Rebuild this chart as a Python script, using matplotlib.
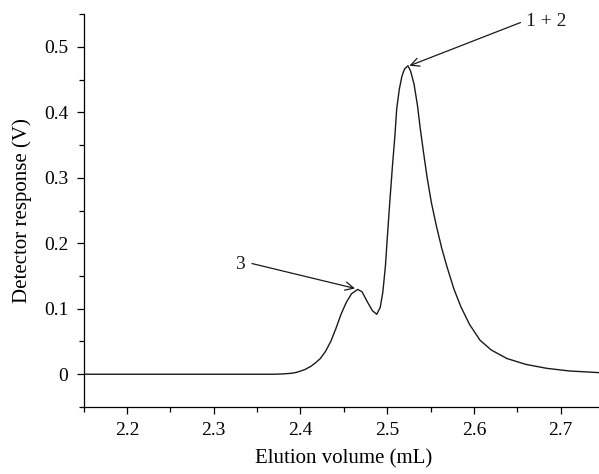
import matplotlib.pyplot as plt
from matplotlib.ticker import MultipleLocator, FuncFormatter

# chromatogram
volume = [2.15, 2.30, 2.37, 2.38, 2.39, 2.396, 2.405, 2.412, 2.418, 2.423, 2.429, 2.435,
          2.441, 2.447, 2.453, 2.459, 2.466, 2.471, 2.477, 2.483, 2.488, 2.492,
          2.495, 2.498, 2.500, 2.503, 2.506, 2.509, 2.511, 2.514, 2.517, 2.520,
          2.524, 2.527, 2.531, 2.535, 2.538, 2.542, 2.546, 2.551, 2.557, 2.563,
          2.569, 2.577, 2.585, 2.595, 2.607, 2.620, 2.638, 2.660, 2.684, 2.710,
          2.750]
response = [0.0, 0.0, 0.0, 0.0005, 0.0015, 0.003, 0.007, 0.012, 0.018, 0.024, 0.035, 0.050,
            0.070, 0.092, 0.110, 0.123, 0.1295, 0.126, 0.111, 0.097, 0.0915, 0.102,
            0.125, 0.165, 0.205, 0.262, 0.316, 0.365, 0.405, 0.435, 0.455, 0.466,
            0.471, 0.463, 0.443, 0.410, 0.377, 0.338, 0.301, 0.262, 0.225, 0.192,
            0.164, 0.130, 0.103, 0.076, 0.052, 0.037, 0.024, 0.015, 0.009, 0.005,
            0.002]

peak_labels = ['3', '1 + 2']
peak_tips = [(2.463, 0.131), (2.5257, 0.471)]
label_tails = [(2.3442, 0.169), (2.6537, 0.537)]
label_pos = [(2.3365, 0.1675), (2.6595, 0.539)]

plt.rcParams['font.family'] = ['Liberation Serif', 'DejaVu Serif']
plt.rcParams['font.size'] = 14

fig = plt.figure(figsize=(5.99, 4.74), dpi=100)
ax = fig.add_axes([0.1394, 0.1414, 0.869, 0.829])

ax.plot(volume, response, color='#1a1a1a', lw=1.0, solid_joinstyle='round')

for txt, tip, tail, pos in zip(peak_labels, peak_tips, label_tails, label_pos):
    ax.annotate('', xy=tip, xytext=tail,
                arrowprops=dict(arrowstyle='->', lw=0.9, color='#1a1a1a',
                                shrinkA=0, shrinkB=0, mutation_scale=15))
    ha = 'right' if pos[0] < tail[0] else 'left'
    ax.text(pos[0], pos[1], txt, ha=ha, va='center', color='#1a1a1a', fontsize=14)

ax.set_xlim(2.15, 2.75)
ax.set_ylim(-0.05, 0.55)
ax.xaxis.set_minor_locator(MultipleLocator(0.05))
ax.yaxis.set_minor_locator(MultipleLocator(0.05))
ax.set_yticks([0, 0.1, 0.2, 0.3, 0.4, 0.5])
ax.set_xticks([2.2, 2.3, 2.4, 2.5, 2.6, 2.7])
ax.yaxis.set_major_formatter(FuncFormatter(lambda v, p: '0' if abs(v) < 1e-9 else '%.1f' % v))

for side in ['top', 'right']:
    ax.spines[side].set_visible(False)
for side in ['left', 'bottom']:
    ax.spines[side].set_linewidth(0.9)
ax.tick_params(which='major', direction='out', length=5, width=0.9, pad=6)
ax.tick_params(which='minor', direction='out', length=3.5, width=0.9)

ax.set_xlabel('Elution volume (mL)', fontsize=15)
ax.xaxis.set_label_coords(0.5, -0.108)
ax.set_ylabel('Detector response (V)', fontsize=15)
ax.yaxis.set_label_coords(-0.098, 0.5)

fig.savefig('out.png', dpi=100)
